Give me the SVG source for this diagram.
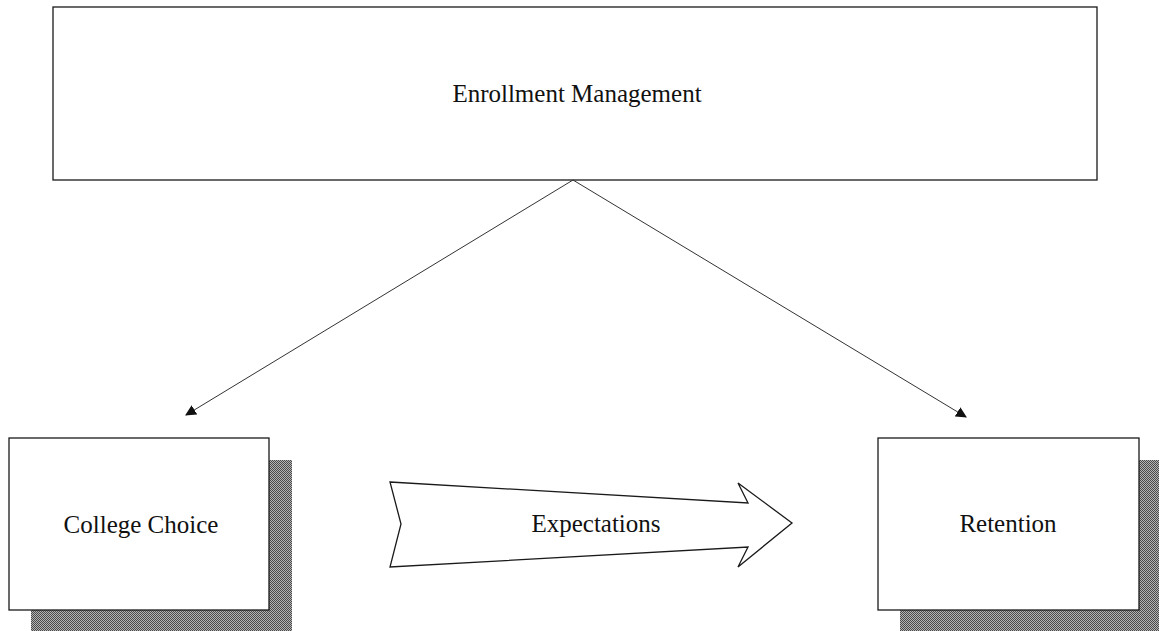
<svg xmlns="http://www.w3.org/2000/svg" width="1159" height="631" viewBox="0 0 1159 631">
  <style>
    .box { fill: #ffffff; stroke: #1a1a1a; stroke-width: 1.3; }
    .shadow { fill: url(#dither); }
    .lbl { font-family: "Liberation Serif", "Times New Roman", serif; font-size: 25px; fill: #111; text-anchor: middle; }
    .conn { stroke: #333; stroke-width: 1; fill: none; }
  </style>
  <defs>
    <pattern id="dither" width="2" height="2" patternUnits="userSpaceOnUse">
      <rect width="2" height="2" fill="#b4b4b4"/>
      <rect width="1" height="1" fill="#4a4a4a"/>
      <rect x="1" y="1" width="1" height="1" fill="#4a4a4a"/>
    </pattern>
    <marker id="tri" viewBox="0 0 10 10" refX="9" refY="5" markerWidth="11" markerHeight="11" markerUnits="userSpaceOnUse" orient="auto">
      <path d="M0,0 L10,5 L0,10 z" fill="#111"/>
    </marker>
  </defs>

  <g id="enrollment-management">
    <rect class="box" x="53" y="7" width="1044" height="173"/>
    <text class="lbl" x="577" y="102">Enrollment Management</text>
  </g>

  <g id="college-choice">
    <rect class="shadow" x="31" y="460" width="261" height="171"/>
    <rect class="box" x="9" y="438" width="260" height="172"/>
    <text class="lbl" x="141" y="533">College Choice</text>
  </g>

  <g id="retention">
    <rect class="shadow" x="900" y="460" width="259" height="171"/>
    <rect class="box" x="878" y="438" width="261" height="172"/>
    <text class="lbl" x="1008" y="532">Retention</text>
  </g>

  <g id="expectations">
    <path class="box" stroke-width="1" d="M390,482 L748,503 L738,483 L792,523 L738,567 L748,547 L390,567 L401,524 Z"/>
    <text class="lbl" x="596" y="532">Expectations</text>
  </g>

  <g id="connectors">
    <line class="conn" x1="573" y1="180" x2="186" y2="415" marker-end="url(#tri)"/>
    <line class="conn" x1="573" y1="180" x2="966" y2="417" marker-end="url(#tri)"/>
  </g>
</svg>
